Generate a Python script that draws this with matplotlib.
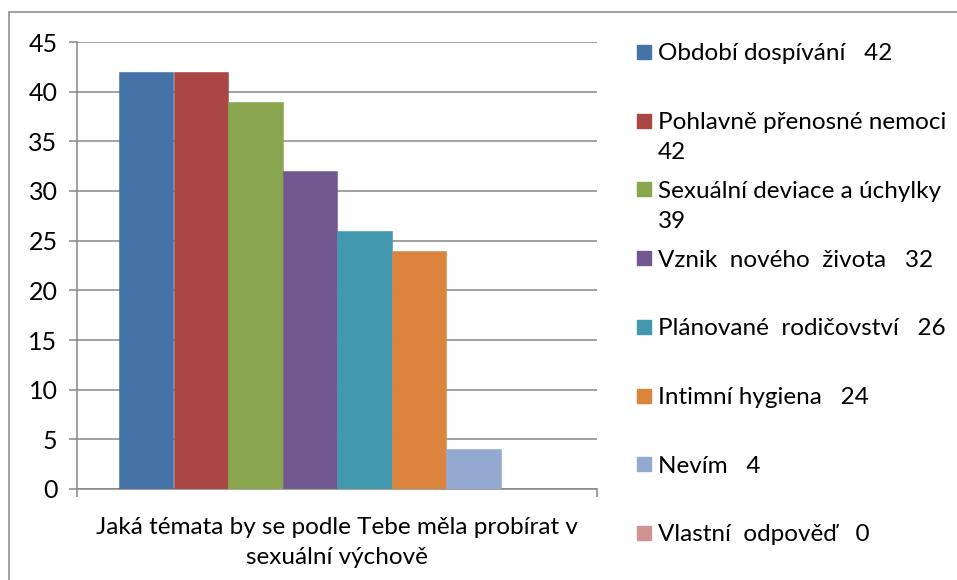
import numpy as np
import matplotlib.pyplot as plt
from matplotlib.patches import Rectangle

plt.rcParams['font.family'] = ['Lato', 'DejaVu Sans']

# data
labels = ['Období dospívání   42', 'Pohlavně přenosné nemoci\n42',
          'Sexuální deviace a úchylky\n39', 'Vznik  nového  života   32',
          'Plánované  rodičovství   26', 'Intimní hygiena   24',
          'Nevím   4', 'Vlastní  odpověď   0']
values = [42, 42, 39, 32, 26, 24, 4, 0]
colors = ['#4572A7', '#AA4643', '#89A54E', '#71588F',
          '#4198AF', '#DB843D', '#93A9CF', '#D19392']
category = 'Jaká témata by se podle Tebe měla probírat v\nsexuální výchově'

W, H = 957, 580
fig = plt.figure(figsize=(W / 100, H / 100), dpi=100)
ax = fig.add_axes([77 / W, 1 - 489 / H, (597 - 77) / W, (489 - 42) / H])

n = len(values)
group = 436 / 520
w = group / n
x = (np.arange(n) - (n - 1) / 2) * w
ax.bar(x, values, width=w, color=colors, edgecolor=colors, linewidth=0.4, zorder=3)

ax.set_xlim(-0.5, 0.5)
ax.set_ylim(0, 45)
ax.set_yticks(range(0, 46, 5))
ax.yaxis.grid(True, color='#868686', linewidth=1.1, zorder=0)
ax.set_xticks([-0.5, 0.5])
ax.set_xticklabels(['', ''])
ax.tick_params(axis='y', length=6, width=1.1, color='#868686', labelsize=18, pad=8)
ax.tick_params(axis='x', length=6, width=1.1, color='#868686')
for s in ['top', 'right']:
    ax.spines[s].set_visible(False)
for s in ['left', 'bottom']:
    ax.spines[s].set_color('#868686')
    ax.spines[s].set_linewidth(1.1)

for j, line in enumerate(category.split('\n')):
    fig.text(337 / W, 1 - (527 + 30 * j) / H, line, ha='center', va='center',
             fontsize=17.5)

# legend
for i, (lab, c) in enumerate(zip(labels, colors)):
    yc = 52 + i * 68.7
    fig.patches.append(Rectangle((637 / W, 1 - (yc + 7) / H), 14 / W, 14 / H,
                                 transform=fig.transFigure, color=c))
    for j, line in enumerate(lab.split('\n')):
        fig.text(658 / W, 1 - (yc + 2 + 30 * j) / H, line, ha='left', va='center',
                 fontsize=17.5)

# outer border
fig.patches.append(Rectangle((9 / W, -0.05), 1.2, 1 - 12 / H + 0.05,
                             transform=fig.transFigure, fill=False,
                             edgecolor='#868686', linewidth=1.1))

fig.savefig('out.png', dpi=100)
